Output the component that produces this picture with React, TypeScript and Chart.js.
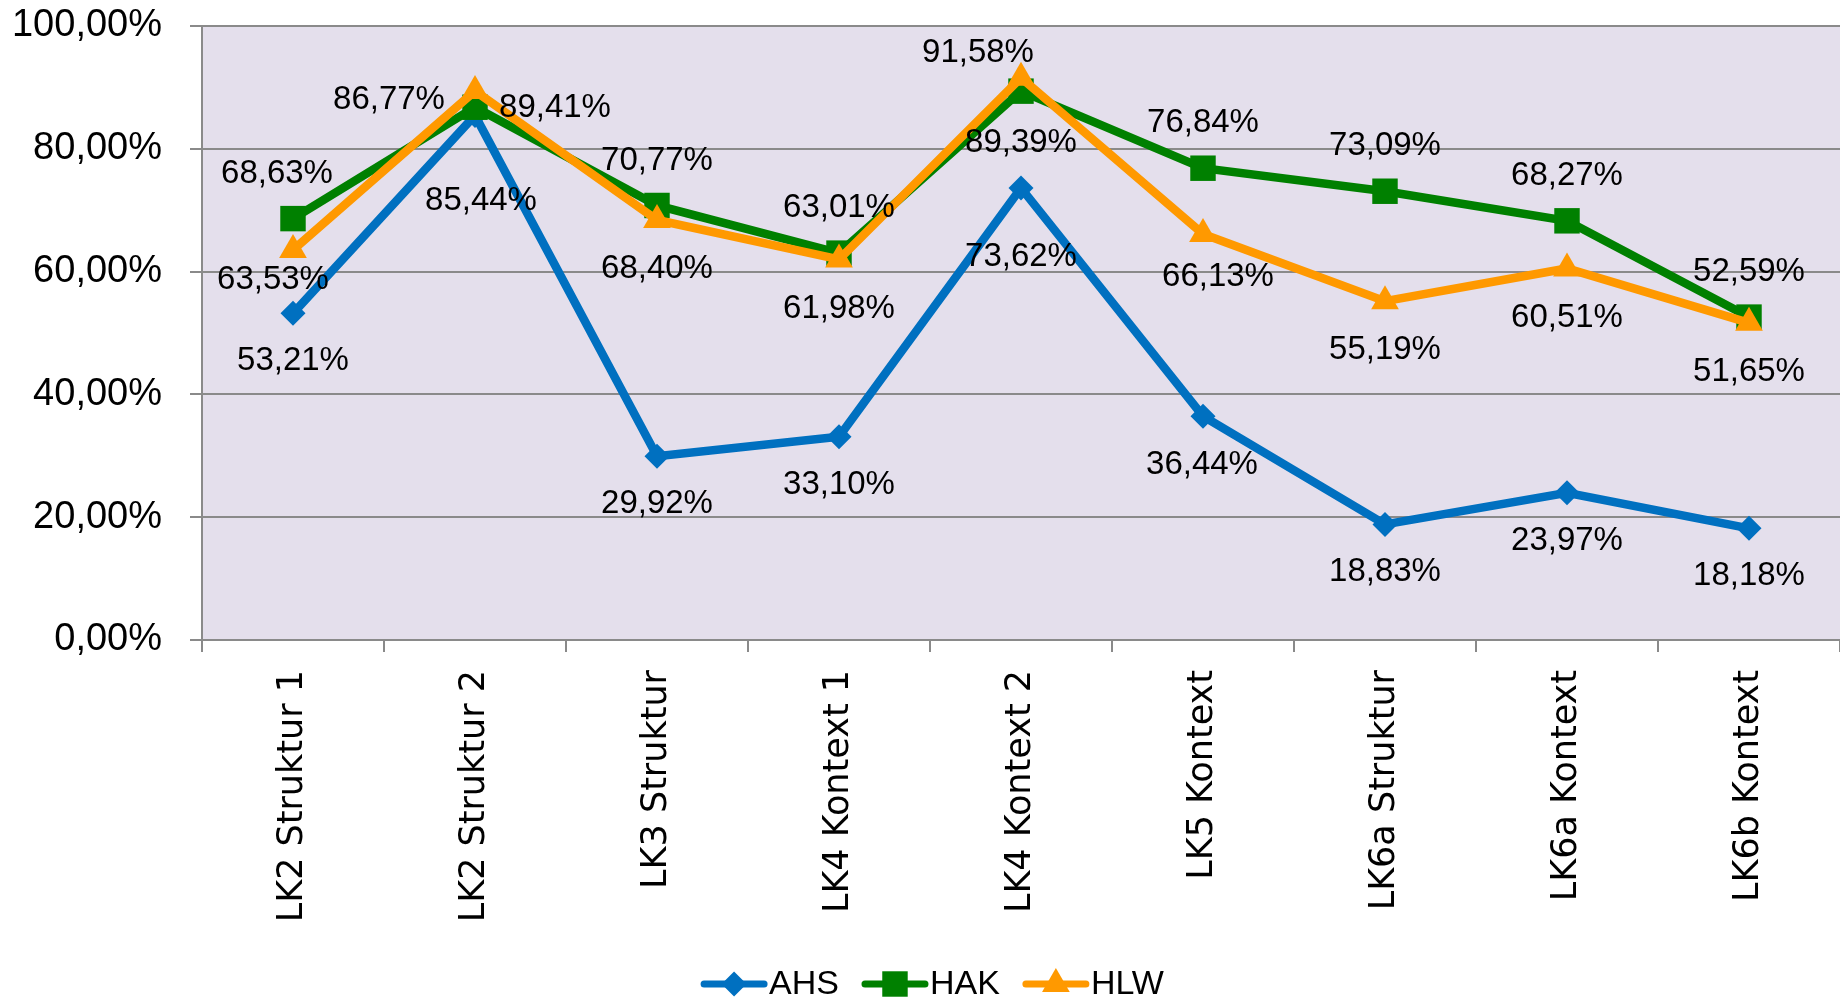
import React, { useEffect, useRef } from 'react';
import { Chart, registerables } from 'chart.js';

Chart.register(...registerables);

const categories = [
  'LK2 Struktur 1',
  'LK2 Struktur 2',
  'LK3 Struktur',
  'LK4 Kontext 1',
  'LK4 Kontext 2',
  'LK5 Kontext',
  'LK6a Struktur',
  'LK6a Kontext',
  'LK6b Kontext',
];

const ahsValues = [53.21, 85.44, 29.92, 33.1, 73.62, 36.44, 18.83, 23.97, 18.18];
const hakValues = [68.63, 86.77, 70.77, 63.01, 89.39, 76.84, 73.09, 68.27, 52.59];
const hlwValues = [63.53, 89.41, 68.4, 61.98, 91.58, 66.13, 55.19, 60.51, 51.65];

const yTicks = [0, 20, 40, 60, 80, 100];

// data label placement (offsets from the point, in px)
const ahsLabelOffsets: [number, number][] = [
  [0, 48], [6, 86], [0, 48], [0, 48], [0, 69], [-1, 49], [0, 48], [0, 48], [0, 48],
];
const hakLabelOffsets: [number, number][] = [
  [-16, -45], [-86, -7], [0, -45], [0, -45], [0, 52], [0, -45], [0, -45], [0, -45], [0, -45],
];
const hlwLabelOffsets: [number, number][] = [
  [-20, 30], [80, 17], [0, 49], [0, 49], [-43, -25], [15, 43], [0, 49], [0, 49], [0, 49],
];

const BLUE = '#0070C0';
const GREEN = '#008000';
const ORANGE = '#FF9900';
const GRID = '#8A8A8A';
const PLOT_BG = '#E4DFEC';
const FONT = "'Liberation Sans', Arial, sans-serif";

const fmt = (v: number) => v.toFixed(2).replace('.', ',') + '%';

const noPadding = () => ({ left: 0, top: 0, right: 0, bottom: 0 });

function marker(ctx: CanvasRenderingContext2D, style: string, r: number, x: number, y: number) {
  ctx.beginPath();
  if (style === 'rectRot') {
    ctx.moveTo(x - r, y);
    ctx.lineTo(x, y - r);
    ctx.lineTo(x + r, y);
    ctx.lineTo(x, y + r);
  } else if (style === 'rect') {
    const s = Math.SQRT1_2 * r;
    ctx.rect(x - s, y - s, 2 * s, 2 * s);
  } else {
    const a = (2 * Math.PI) / 3;
    ctx.moveTo(x, y - r);
    ctx.lineTo(x + Math.sin(a) * r, y - Math.cos(a) * r);
    ctx.lineTo(x - Math.sin(a) * r, y - Math.cos(a) * r);
  }
  ctx.closePath();
  ctx.fill();
}

const bgPlugin = {
  id: 'plotBg',
  beforeDraw(chart: any) {
    const { ctx, chartArea } = chart;
    ctx.save();
    ctx.fillStyle = PLOT_BG;
    ctx.fillRect(chartArea.left, chartArea.top, chartArea.right - chartArea.left, chartArea.bottom - chartArea.top);
    ctx.restore();
  },
};

const labelPlugin = {
  id: 'dataLabels',
  afterDatasetsDraw(chart: any) {
    const { ctx } = chart;
    ctx.save();
    ctx.font = `33px ${FONT}`;
    ctx.fillStyle = '#000';
    ctx.textAlign = 'center';
    ctx.textBaseline = 'middle';
    chart.data.datasets.forEach((ds: any, di: number) => {
      const meta = chart.getDatasetMeta(di);
      meta.data.forEach((pt: any, i: number) => {
        const off = ds.labelOffsets[i];
        ctx.fillText(fmt(ds.data[i]), pt.x + off[0], pt.y + off[1]);
      });
    });
    ctx.restore();
  },
};

const legendPlugin = {
  id: 'customLegend',
  afterDraw(chart: any) {
    const { ctx } = chart;
    const items = chart.data.datasets;
    const lineLen = 68;
    const gapText = 1;
    const gapItem = 22;
    ctx.save();
    ctx.font = `34px ${FONT}`;
    const widths = items.map((d: any) => lineLen + gapText + ctx.measureText(d.label).width);
    const total = widths.reduce((a: number, b: number) => a + b, 0) + gapItem * (items.length - 1);
    let x = chart.width / 2 + 12 - total / 2;
    const y = 984;
    items.forEach((d: any, i: number) => {
      ctx.strokeStyle = d.borderColor;
      ctx.lineWidth = 7;
      ctx.lineCap = 'round';
      ctx.beginPath();
      ctx.moveTo(x + 4, y);
      ctx.lineTo(x + lineLen - 4, y);
      ctx.stroke();
      ctx.fillStyle = d.borderColor;
      marker(ctx, d.pointStyle, d.pointRadius, x + lineLen / 2, y);
      ctx.fillStyle = '#000';
      ctx.textAlign = 'left';
      ctx.textBaseline = 'middle';
      ctx.fillText(d.label, x + lineLen + gapText, y + 1);
      x += widths[i] + gapItem;
    });
    ctx.restore();
  },
};

export default function App() {
  const ref = useRef<HTMLCanvasElement | null>(null);
  useEffect(() => {
    document.body.style.margin = '0';
    const canvas = ref.current!;
    const chart = new Chart(canvas, {
      type: 'line',
      data: {
        labels: categories,
        datasets: [
          {
            label: 'AHS',
            data: ahsValues,
            borderColor: BLUE,
            backgroundColor: BLUE,
            borderWidth: 8.5,
            pointStyle: 'rectRot',
            pointRadius: 12.5,
            pointBorderWidth: 0,
            order: 2,
            labelOffsets: ahsLabelOffsets,
          } as any,
          {
            label: 'HAK',
            data: hakValues,
            borderColor: GREEN,
            backgroundColor: GREEN,
            borderWidth: 8.5,
            pointStyle: 'rect',
            pointRadius: 18,
            pointBorderWidth: 0,
            order: 1,
            labelOffsets: hakLabelOffsets,
          } as any,
          {
            label: 'HLW',
            data: hlwValues,
            borderColor: ORANGE,
            backgroundColor: ORANGE,
            borderWidth: 8.5,
            pointStyle: 'triangle',
            pointRadius: 16,
            pointBorderWidth: 0,
            order: 0,
            labelOffsets: hlwLabelOffsets,
          } as any,
        ],
      },
      options: {
        responsive: false,
        animation: false,
        events: [],
        layout: { autoPadding: false, padding: { top: 26, left: 0, right: 0, bottom: 0 } },
        plugins: {
          legend: { display: false },
          tooltip: { enabled: false },
          title: { display: false },
        },
        scales: {
          x: {
            offset: true,
            grid: {
              offset: true,
              drawOnChartArea: false,
              drawTicks: true,
              tickLength: 12,
              color: GRID,
              lineWidth: 2,
            },
            border: { color: GRID, width: 2 },
            ticks: {
              color: '#000',
              font: { family: "'DejaVu Sans', sans-serif", size: 35 },
              minRotation: 90,
              maxRotation: 90,
              padding: 18,
              autoSkip: false,
            },
            afterFit(scale: any) {
              scale.height = 360;
              scale.paddingLeft = 0;
              scale.paddingRight = 0;
              scale.getPadding = noPadding;
            },
          },
          y: {
            min: 0,
            max: 100,
            afterBuildTicks(scale: any) {
              scale.ticks = yTicks.map((v) => ({ value: v }));
            },
            grid: {
              color: GRID,
              lineWidth: 2,
              tickLength: 12,
            },
            border: { color: GRID, width: 2 },
            ticks: {
              color: '#000',
              font: { family: FONT, size: 38 },
              padding: 28,
              callback: (v: any) => fmt(Number(v)),
            },
            afterFit(scale: any) {
              scale.width = 202;
              scale.paddingTop = 0;
              scale.paddingBottom = 0;
              scale.getPadding = noPadding;
            },
          },
        },
      },
      plugins: [bgPlugin, labelPlugin, legendPlugin],
    });
    return () => chart.destroy();
  }, []);
  return (
    <div style={{ position: 'absolute', left: 0, top: 0, width: 1840, height: 1000 }}>
      <canvas ref={ref} width={1840} height={1000} />
    </div>
  );
}
